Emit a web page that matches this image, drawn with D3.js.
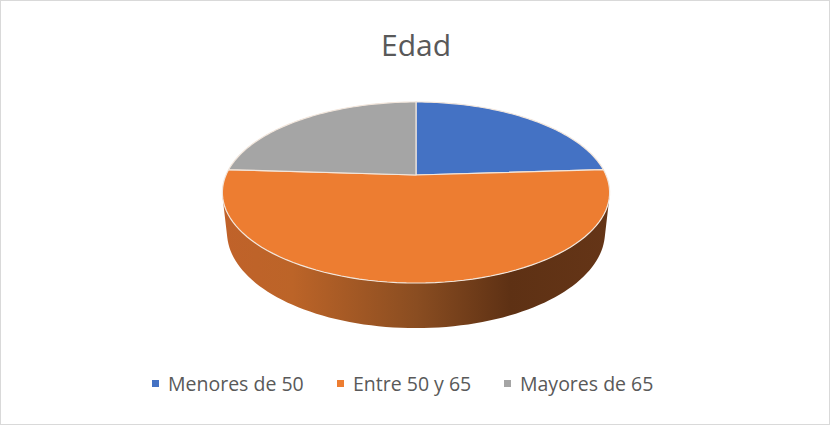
<!DOCTYPE html>
<html>
<head>
<meta charset="utf-8">
<script src="https://cdn.jsdelivr.net/npm/d3@7"></script>
<style>
  body { margin: 0; background: #fff; }
  svg { display: block; font-family: "Open Sans", "Noto Sans", sans-serif; }
</style>
</head>
<body>
<svg width="830" height="425"></svg>
<script>
var title = "Edad";
var categories = ["Menores de 50", "Entre 50 y 65", "Mayores de 65"];
var values = [24, 52, 24];
var colors = ["#4472C4", "#ED7D31", "#A5A5A5"];

var svg = d3.select("svg"),
    width = 830, height = 425;

// border
svg.append("rect")
    .attr("x", 0.5).attr("y", 0.5)
    .attr("width", width - 1).attr("height", height - 1)
    .attr("fill", "#fff").attr("stroke", "#d9d9d9");

svg.append("text")
    .attr("x", 416).attr("y", 56)
    .attr("text-anchor", "middle")
    .attr("font-size", 30)
    .attr("fill", "#595959")
    .text(title);

// perspective setup (tilted disc seen from above)
var cx = 416, cy = 175,
    alpha = 27.3 * Math.PI / 180,
    s = Math.sin(alpha), c = Math.cos(alpha),
    D = 4.6, F = 874,
    H = 0.237;

function proj(theta, r, h) {
    // theta clockwise from 12 o'clock (back of the disc)
    var x = r * Math.sin(theta), z = r * Math.cos(theta);
    var d = D + z * c + h * s;
    return [cx + F * x / d, cy - F * (z * s - h * c) / d];
}

var pie = d3.pie().sort(null).value(d => d)(values);

var defs = svg.append("defs");
var grad = defs.append("linearGradient")
    .attr("id", "side")
    .attr("gradientUnits", "userSpaceOnUse")
    .attr("x1", 222).attr("x2", 611).attr("y1", 0).attr("y2", 0);
[[0, "#c0622a"], [0.18, "#bc6428"], [0.5, "#8a4d21"], [0.74, "#5e3114"], [1, "#653517"]]
    .forEach(st => grad.append("stop").attr("offset", st[0]).attr("stop-color", st[1]));

var line = d3.line();
var steps = 80;

// side wall: only the part facing the camera
var tLim = Math.acos(-1 / (D * c));
pie.forEach((sl, i) => {
    var a0 = Math.max(sl.startAngle, tLim), a1 = Math.min(sl.endAngle, 2 * Math.PI - tLim);
    if (a1 <= a0) return;
    var top = d3.range(steps + 1).map(k => proj(a0 + (a1 - a0) * k / steps, 1, 0));
    var bot = d3.range(steps + 1).map(k => proj(a1 - (a1 - a0) * k / steps, 1, H));
    svg.append("path")
        .attr("d", line(top.concat(bot)) + "Z")
        .attr("fill", i == 1 ? "url(#side)" : d3.color(colors[i]).darker(1));
});

// top faces
pie.forEach((sl, i) => {
    var pts = [proj(0, 0, 0)];
    d3.range(steps + 1).forEach(k => pts.push(proj(sl.startAngle + (sl.endAngle - sl.startAngle) * k / steps, 1, 0)));
    svg.append("path")
        .attr("d", line(pts) + "Z")
        .attr("fill", colors[i])
        .attr("stroke", "#f2e6dc")
        .attr("stroke-width", 1.2)
        .attr("stroke-linejoin", "round");
});

// legend
var legendX = [152, 337, 504];
var lg = svg.append("g");
categories.forEach((cat, i) => {
    lg.append("rect")
        .attr("x", legendX[i]).attr("y", 380)
        .attr("width", 7).attr("height", 7)
        .attr("fill", colors[i]);
    lg.append("text")
        .attr("x", legendX[i] + 16).attr("y", 391)
        .attr("font-size", 19.5)
        .attr("fill", "#595959")
        .text(cat);
});
</script>
</body>
</html>
